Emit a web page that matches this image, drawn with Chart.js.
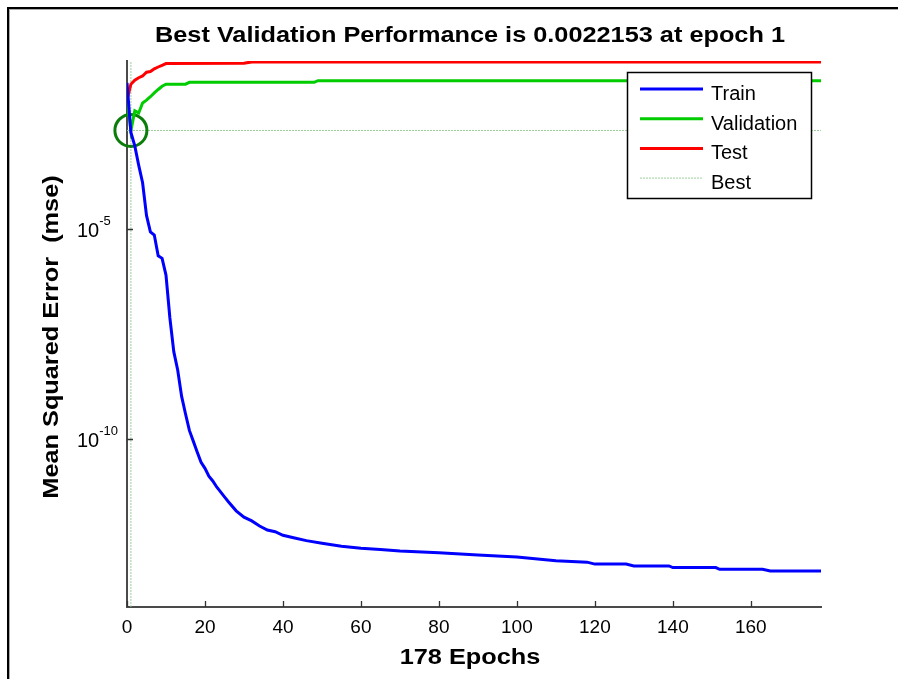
<!DOCTYPE html>
<html>
<head>
<meta charset="utf-8">
<script src="https://cdn.jsdelivr.net/npm/chart.js@4.4.1/dist/chart.umd.min.js"></script>
<style>
  html, body { margin: 0; padding: 0; background: #fff; overflow: hidden; }
  #wrap { position: relative; width: 898px; height: 679px; }
  #frame { position: absolute; left: 7px; top: 7px; width: 1000px; height: 1000px;
           border-left: 2px solid #000; border-top: 2px solid #000; box-shadow: inset 1px 1px 0 #aaa; }
  canvas { position: absolute; left: 0; top: 0; }
</style>
</head>
<body>
<div id="wrap">
  <div id="frame"></div>
  <canvas id="perf" width="898" height="679"></canvas>
</div>
<script>
// values (mse per epoch)
var trainEpochs = [0, 1, 2, 3, 4, 5, 6, 7, 8, 9, 10, 11, 12, 13, 14, 15, 16, 17, 18, 19, 20,
    21, 22, 23, 24, 25, 26, 28, 30, 32, 34, 36, 38, 40, 43, 46, 50, 55, 60, 65, 70, 80, 90,
    100, 110, 118, 120, 128, 130, 139, 140, 151, 152, 163, 165, 178];
var trainMse = [3.0e-2, 2.0e-3, 9.5e-4, 3.3e-4, 1.26e-4, 2.1e-5, 8.5e-6, 7.2e-6, 2.3e-6, 2.0e-6,
    8.0e-7, 7.6e-8, 1.2e-8, 4.4e-9, 1.05e-9, 4.0e-10, 1.6e-10, 8.9e-11, 4.9e-11, 2.8e-11, 2.0e-11,
    1.3e-11, 1.0e-11, 7.2e-12, 5.5e-12, 4.2e-12, 3.2e-12, 1.95e-12, 1.38e-12, 1.12e-12, 8.5e-13,
    6.8e-13, 6.2e-13, 5.1e-13, 4.4e-13, 3.8e-13, 3.3e-13, 2.8e-13, 2.5e-13, 2.35e-13, 2.15e-13,
    1.95e-13, 1.74e-13, 1.55e-13, 1.26e-13, 1.17e-13, 1.05e-13, 1.05e-13, 9.5e-14, 9.5e-14,
    8.7e-14, 8.7e-14, 7.9e-14, 7.9e-14, 7.2e-14, 7.2e-14];

var valEpochs = [0, 1, 2, 3, 4, 5, 6, 7, 8, 9, 10, 15, 16, 48, 49, 178];
var valMse = [1.38e-2, 2.2153e-3, 6.5e-3, 5.8e-3, 1.0e-2, 1.17e-2, 1.41e-2, 1.74e-2, 2.1e-2,
    2.5e-2, 2.8e-2, 2.8e-2, 3.1e-2, 3.1e-2, 3.4e-2, 3.4e-2];

var testEpochs = [0, 1, 2, 3, 4, 5, 6, 7, 8, 9, 10, 30, 32, 178];
var testMse = [1.17e-2, 2.8e-2, 3.5e-2, 4.0e-2, 4.4e-2, 5.4e-2, 5.6e-2, 6.5e-2, 7.2e-2, 7.9e-2,
    8.7e-2, 8.9e-2, 9.5e-2, 9.5e-2];

var bestEpoch = 1;
var bestMse = 0.0022153;
var totalEpochs = 178;
var yRange = [1e-14, 1e-1];

var xTickValues = [0, 20, 40, 60, 80, 100, 120, 140, 160];
var yTickValues = [1e-5, 1e-10];
var yTickExponents = ['-5', '-10'];

var titleText = 'Best Validation Performance is 0.0022153 at epoch 1';
var xTitle = totalEpochs + ' Epochs';
var yTitle = 'Mean Squared Error  (mse)';
var legendLabels = ['Train', 'Validation', 'Test', 'Best'];

function pts(xs, ys) {
    return xs.map(function (e, i) { return {x: e, y: ys[i]}; });
}

var FONT = '"Liberation Sans", Arial, sans-serif';
var STRETCH = 1.15; // bold labels in the original are drawn wide

// draws text stretched along its own direction
function wideText(ctx, text, x, y, angle) {
    ctx.save();
    ctx.translate(x, y);
    ctx.rotate(angle || 0);
    ctx.scale(STRETCH, 1);
    ctx.fillText(text, 0, 0);
    ctx.restore();
}

// titles, tick labels (with superscripts) and the boxed legend, matlab style
var matlabDecor = {
    id: 'matlabDecor',
    afterDraw: function (chart) {
        var ctx = chart.ctx, a = chart.chartArea;
        var x = chart.scales.x, y = chart.scales.y;
        ctx.save();
        ctx.fillStyle = '#000';

        // tick marks pointing inward
        ctx.strokeStyle = '#333';
        ctx.lineWidth = 1.3;
        ctx.beginPath();
        xTickValues.forEach(function (v) {
            var px = Math.round(x.getPixelForValue(v)) + 0.5;
            ctx.moveTo(px, a.bottom);
            ctx.lineTo(px, a.bottom - 6);
        });
        yTickValues.forEach(function (v) {
            var py = Math.round(y.getPixelForValue(v)) + 0.5;
            ctx.moveTo(a.left, py);
            ctx.lineTo(a.left + 6, py);
        });
        ctx.stroke();

        // x tick labels
        ctx.font = '19px ' + FONT;
        ctx.textAlign = 'center';
        ctx.textBaseline = 'alphabetic';
        xTickValues.forEach(function (v) {
            ctx.fillText(String(v), x.getPixelForValue(v), a.bottom + 26);
        });

        // y tick labels 10^n
        ctx.textAlign = 'left';
        yTickValues.forEach(function (v, i) {
            var py = y.getPixelForValue(v);
            var x0 = a.left - 50;
            ctx.font = '20px ' + FONT;
            ctx.fillText('10', x0, py + 8);
            var w = ctx.measureText('10').width;
            ctx.font = '13px ' + FONT;
            ctx.fillText(yTickExponents[i], x0 + w, py - 4);
        });

        // titles
        var cx = (a.left + a.right) / 2 - 4;
        ctx.font = 'bold 22px ' + FONT;
        ctx.textAlign = 'center';
        wideText(ctx, titleText, cx, 42);
        wideText(ctx, xTitle, cx, a.bottom + 57);
        wideText(ctx, yTitle, 58, (a.top + a.bottom) / 2 + 3, -Math.PI / 2);

        // legend box
        var lw = 184, lh = 126;
        var lx = a.right - 194, ly = a.top + 11;
        ctx.fillStyle = '#fff';
        ctx.fillRect(lx, ly, lw, lh);
        ctx.strokeStyle = '#000';
        ctx.lineWidth = 1.5;
        ctx.strokeRect(lx + 0.5, ly + 0.5, lw, lh);
        ctx.font = '20px ' + FONT;
        ctx.textAlign = 'left';
        legendLabels.forEach(function (lab, i) {
            var ds = chart.data.datasets[i];
            var rowY = ly + 17 + i * 29.7;
            ctx.strokeStyle = ds.borderColor;
            ctx.lineWidth = ds.borderWidth;
            ctx.setLineDash(ds.borderDash || []);
            ctx.beginPath();
            ctx.moveTo(lx + 13, rowY);
            ctx.lineTo(lx + 76, rowY);
            ctx.stroke();
            ctx.setLineDash([]);
            ctx.fillStyle = '#000';
            ctx.fillText(lab, lx + 84, rowY + 11);
        });
        ctx.restore();
    }
};

new Chart(document.getElementById('perf'), {
    type: 'line',
    data: {
        datasets: [
            {label: 'Train', data: pts(trainEpochs, trainMse), borderColor: '#0000ff',
                borderWidth: 3, pointRadius: 0, order: 1},
            {label: 'Validation', data: pts(valEpochs, valMse), borderColor: '#00cc00',
                borderWidth: 3, pointRadius: 0, order: 2},
            {label: 'Test', data: pts(testEpochs, testMse), borderColor: '#ff0000',
                borderWidth: 3, pointRadius: 0, order: 3},
            {label: 'Best', data: [{x: 0, y: bestMse}, {x: totalEpochs, y: bestMse}],
                borderColor: '#9ccf9c', borderWidth: 1, borderDash: [2, 1], pointRadius: 0, order: 6},
            {label: 'BestEpoch', data: [{x: bestEpoch, y: yRange[0]}, {x: bestEpoch, y: yRange[1]}],
                borderColor: '#9ccf9c', borderWidth: 1, borderDash: [2, 1], pointRadius: 0, order: 6},
            {label: 'BestPoint', data: [{x: bestEpoch, y: bestMse}], showLine: false,
                pointRadius: 16, pointBorderWidth: 3, pointBorderColor: '#0b7d0b',
                pointBackgroundColor: 'rgba(0,0,0,0)', clip: false, order: 4}
        ]
    },
    options: {
        responsive: false,
        animation: false,
        layout: {padding: {left: 127, top: 61, right: 77, bottom: 72}},
        scales: {
            x: {
                type: 'linear', min: 0, max: totalEpochs,
                ticks: {display: false},
                grid: {display: false},
                border: {color: '#4a4a4a', width: 2},
                afterFit: function (s) { s.height = 0; }
            },
            y: {
                type: 'logarithmic', min: yRange[0], max: yRange[1],
                ticks: {display: false},
                grid: {display: false},
                border: {color: '#4a4a4a', width: 2},
                afterFit: function (s) { s.width = 0; }
            }
        },
        plugins: {
            legend: {display: false},
            tooltip: {enabled: false},
            title: {display: false}
        }
    },
    plugins: [matlabDecor]
});
</script>
</body>
</html>
